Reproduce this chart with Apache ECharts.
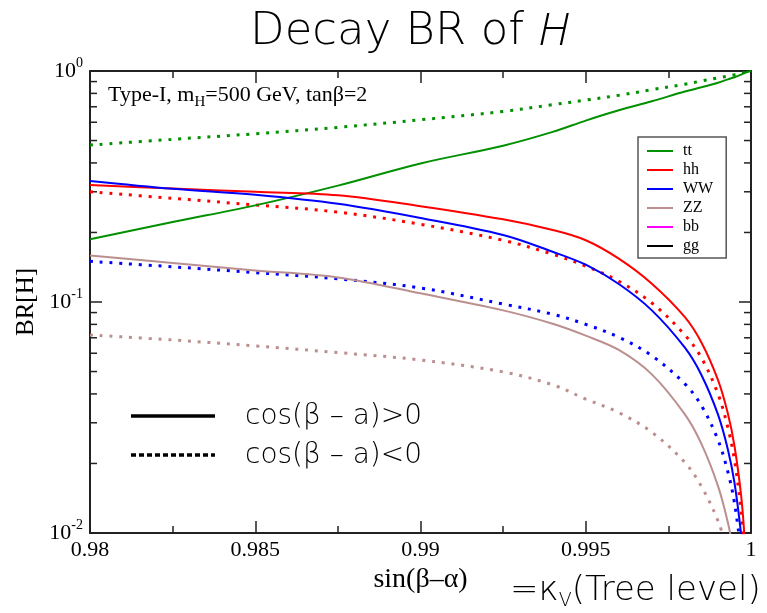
<!DOCTYPE html>
<html>
<head>
<meta charset="utf-8">
<script src="https://cdn.jsdelivr.net/npm/echarts@6/dist/echarts.min.js"></script>
<style>
  html, body { margin: 0; background: #fff; }
  #chart { width: 767px; height: 613px; }
</style>
</head>
<body>
<div id="chart"></div>
<script>
// sin(beta - alpha) sample points
const sinBA = [0.98, 0.9825, 0.985, 0.9875, 0.99, 0.9925, 0.994, 0.995, 0.996, 0.997, 0.998, 0.9985, 0.999, 0.9993, 0.9995, 0.9997, 0.9998, 1];

// cos(beta - alpha) > 0 (solid)
const ttPos = [0.187, 0.222, 0.262, 0.319, 0.398, 0.475, 0.545, 0.61, 0.676, 0.74, 0.815, 0.85, 0.89, 0.92, 0.94, 0.965, 0.98, 1.0];
const hhPos = [0.321, 0.31, 0.30, 0.29, 0.26, 0.228, 0.205, 0.185, 0.154, 0.12, 0.086, 0.0668, 0.046, 0.0329, 0.0238, 0.0146, 0.0098, null];
const wwPos = [0.334, 0.309, 0.291, 0.266, 0.231, 0.195, 0.165, 0.145, 0.1196, 0.092, 0.0634, 0.0483, 0.0326, 0.023, 0.0165, 0.0099, null, null];
const zzPos = [0.159, 0.1475, 0.137, 0.1277, 0.109, 0.092, 0.0805, 0.0715, 0.062, 0.0486, 0.0326, 0.0243, 0.016, 0.0111, 0.0079, null, null, null];

// cos(beta - alpha) < 0 (dotted)
const ttNeg = [0.478, 0.506, 0.535, 0.57, 0.615, 0.668, 0.715, 0.748, 0.785, 0.83, 0.877, 0.905, 0.933, 0.95, 0.963, 0.978, 0.985, 1.0];
const hhNeg = [0.30, 0.281, 0.263, 0.245, 0.217, 0.185, 0.161, 0.143, 0.123, 0.099, 0.072, 0.0573, 0.040, 0.0286, 0.0207, 0.0125, 0.0084, null];
const wwNeg = [0.150, 0.142, 0.134, 0.126, 0.115, 0.098, 0.0885, 0.080, 0.0704, 0.0585, 0.0442, 0.0356, 0.0253, 0.0184, 0.0135, 0.0083, null, null];
const zzNeg = [0.072, 0.0685, 0.0645, 0.0604, 0.0561, 0.0498, 0.0438, 0.038, 0.0332, 0.0273, 0.0202, 0.0159, 0.0113, 0.0083, null, null, null, null];

const channels = ['tt', 'hh', 'WW', 'ZZ', 'bb', 'gg'];
const colors = { tt: '#009000', hh: '#ff0000', WW: '#0000ff', ZZ: '#bc8f8f', bb: '#ff00ff', gg: '#000000' };
const xTicks = [0.98, 0.985, 0.99, 0.995, 1];
const yMinorTicks = [0.02, 0.03, 0.04, 0.05, 0.06, 0.07, 0.08, 0.09, 0.2, 0.3, 0.4, 0.5, 0.6, 0.7, 0.8, 0.9];

const serif = 'Liberation Serif';
const sans = 'DejaVu Sans';
const frame = '#222';

const pairs = arr => sinBA.map((s, i) => [s, arr[i]]);

function curve(name, arr, dotted) {
  return {
    name: name,
    type: 'line',
    data: arr ? pairs(arr) : [],
    symbol: 'none',
    showSymbol: false,
    smooth: 0.35,
    clip: true,
    silent: true,
    lineStyle: dotted
      ? { color: colors[name], width: 3, type: [3, 6.8] }
      : { color: colors[name], width: 2 },
    itemStyle: { color: colors[name] },
    z: dotted ? 3 : 4
  };
}

const chart = echarts.init(document.getElementById('chart'));

const series = [
  curve('tt', ttPos, false),
  curve('hh', hhPos, false),
  curve('WW', wwPos, false),
  curve('ZZ', zzPos, false),
  curve('bb', null, false),
  curve('gg', null, false),
  curve('tt', ttNeg, true),
  curve('hh', hhNeg, true),
  curve('WW', wwNeg, true),
  curve('ZZ', zzNeg, true),
  {
    // minor ticks of the log axis, left and right sides
    type: 'custom',
    silent: true,
    clip: false,
    data: yMinorTicks.map(v => [0.99, v]),
    renderItem: function (params, api) {
      const cs = params.coordSys;
      const y = api.coord([api.value(0), api.value(1)])[1];
      const st = { stroke: frame, lineWidth: 1.5 };
      return {
        type: 'group',
        children: [
          { type: 'line', shape: { x1: cs.x, y1: y, x2: cs.x + 7, y2: y }, style: st },
          { type: 'line', shape: { x1: cs.x + cs.width - 7, y1: y, x2: cs.x + cs.width, y2: y }, style: st }
        ]
      };
    }
  }
];

const xBase = {
  type: 'value',
  min: 0.98,
  max: 1,
  interval: 0.005,
  axisLine: { show: true, onZero: false, lineStyle: { color: frame, width: 2 } },
  axisTick: { show: true, inside: true, length: 12, lineStyle: { color: frame, width: 1.5 } },
  minorTick: { show: true, splitNumber: 2, length: 7, lineStyle: { color: frame, width: 1.5 } },
  splitLine: { show: false },
  minorSplitLine: { show: false }
};
const yBase = {
  type: 'log',
  logBase: 10,
  min: 0.01,
  max: 1,
  axisLine: { show: true, onZero: false, lineStyle: { color: frame, width: 2 } },
  axisTick: { show: true, inside: true, length: 12, lineStyle: { color: frame, width: 1.5 } },
  splitLine: { show: false }
};

chart.setOption({
  animation: false,
  backgroundColor: '#fff',
  grid: { left: 90, right: 16, top: 71, bottom: 80, containLabel: false },
  legend: {
    data: channels,
    orient: 'vertical',
    left: 638,
    top: 137,
    padding: [6, 13, 4, 9],
    icon: 'rect',
    itemWidth: 26,
    itemHeight: 2,
    itemGap: 3,
    selectedMode: false,
    backgroundColor: '#fff',
    borderColor: '#555',
    borderWidth: 1.5,
    borderRadius: 0,
    textStyle: { fontFamily: serif, fontSize: 16, color: '#000', padding: [0, 0, 0, 5] }
  },
  xAxis: [
    Object.assign({}, xBase, {
      position: 'bottom',
      name: 'sin(β–α)',
      nameLocation: 'middle',
      nameGap: 33,
      nameTextStyle: { fontFamily: serif, fontSize: 28, color: '#000' },
      axisLabel: {
        show: true,
        margin: 6,
        fontFamily: serif,
        fontSize: 22,
        color: '#000',
        formatter: v => String(+v.toFixed(3))
      }
    }),
    Object.assign({}, xBase, { position: 'top', axisLabel: { show: false } })
  ],
  yAxis: [
    Object.assign({}, yBase, {
      position: 'left',
      name: 'BR[H]',
      nameLocation: 'middle',
      nameGap: 48,
      nameRotate: 90,
      nameTextStyle: { fontFamily: serif, fontSize: 25, color: '#000' },
      axisLabel: {
        show: true,
        margin: 7,
        formatter: v => '{b|10}{s|' + Math.round(Math.log10(v)) + '}',
        rich: {
          b: { fontFamily: serif, fontSize: 22, color: '#000', lineHeight: 30 },
          s: { fontFamily: serif, fontSize: 14, color: '#000', lineHeight: 14, verticalAlign: 'top' }
        }
      }
    }),
    Object.assign({}, yBase, { position: 'right', axisLabel: { show: false } })
  ],
  graphic: [
    {
      type: 'text',
      left: 250,
      top: 10,
      style: {
        text: '{n|Decay BR of }{i|H}',
        rich: {
          n: { fontFamily: sans, fontSize: 45, fontWeight: 200, fill: '#000' },
          i: { fontFamily: "'Open Sans', 'Noto Sans', 'DejaVu Sans'", fontSize: 45, fontWeight: 300, fontStyle: 'italic', fill: '#000' }
        }
      }
    },
    {
      type: 'text',
      left: 108,
      top: 84,
      style: {
        text: '{a|Type-I, m}{s|H}{a|=500 GeV, tanβ=2}',
        rich: {
          a: { fontFamily: serif, fontSize: 22, fill: '#000', lineHeight: 30 },
          s: { fontFamily: serif, fontSize: 15, fill: '#000', lineHeight: 16, verticalAlign: 'bottom' }
        }
      }
    },
    {
      type: 'line',
      shape: { x1: 131, y1: 416, x2: 215, y2: 416 },
      style: { stroke: '#000', lineWidth: 3.5 }
    },
    {
      type: 'line',
      shape: { x1: 131, y1: 455, x2: 215, y2: 455 },
      style: { stroke: '#000', lineWidth: 3.5, lineDash: [5, 3] }
    },
    {
      type: 'text',
      left: 245,
      top: 403,
      style: { text: 'cos(β – a)>0', fontFamily: sans, fontSize: 28, fontWeight: 200, fill: '#000' }
    },
    {
      type: 'text',
      left: 245,
      top: 442,
      style: { text: 'cos(β – a)<0', fontFamily: sans, fontSize: 28, fontWeight: 200, fill: '#000' }
    },
    {
      type: 'text',
      left: 510,
      top: 574,
      style: {
        text: '{a|=κ}{s|V}{a|(Tree level)}',
        rich: {
          a: { fontFamily: sans, fontSize: 34, fontWeight: 200, fill: '#000', lineHeight: 40 },
          s: { fontFamily: sans, fontSize: 19, fontWeight: 200, fill: '#000', lineHeight: 20, verticalAlign: 'bottom' }
        }
      }
    }
  ],
  series: series
});
</script>
</body>
</html>
